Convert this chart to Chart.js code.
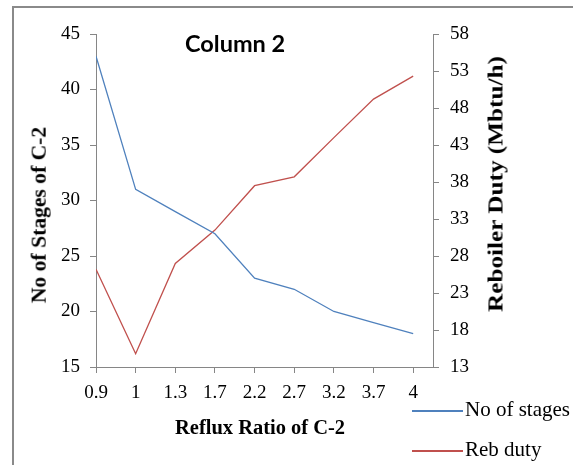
<!DOCTYPE html>
<html>
<head>
<meta charset="utf-8">
<script src="https://cdn.jsdelivr.net/npm/chart.js@4/dist/chart.umd.min.js"></script>
<style>
  html, body { margin: 0; padding: 0; background: #fff; }
  #wrap { position: relative; width: 573px; height: 465px; overflow: hidden; }
  #frame { position: absolute; left: 12px; top: 6px; width: 700px; height: 600px;
           border-left: 2px solid #8a8a8a; border-top: 2px solid #8a8a8a; }
  canvas { position: absolute; left: 0; top: 0; }
  #title { position: absolute; left: 185px; top: 29px; font: bold 23.5px Lato, "Open Sans", sans-serif; color: #000; line-height: 1.2; }
  .axt { position: absolute; font: bold 20px "Liberation Serif", "Times New Roman", serif; color: #000; white-space: nowrap; line-height: 1; }
  .leg { position: absolute; font: 21px "Liberation Serif", serif; color: #000; white-space: nowrap; }
  .leg span.ln { position: absolute; left: 0; top: 0; width: 51px; height: 1.5px; }
  .leg span.tx { position: absolute; left: 53px; top: -13px; line-height: 1.2; }
</style>
</head>
<body>
<div id="wrap">
  <div id="frame"></div>
  <canvas id="c" width="573" height="465"></canvas>
  <div id="title">Column 2</div>
  <div id="xt" class="axt">Reflux Ratio of C-2</div>
  <div id="yt" class="axt">No of Stages of C-2</div>
  <div id="y1t" class="axt">Reboiler Duty (Mbtu/h)</div>
  <div id="legend"></div>
</div>
<script>
const categories = ['0.9', '1', '1.3', '1.7', '2.2', '2.7', '3.2', '3.7', '4'];
const stages = [43, 31, 29, 27, 23, 22, 20, 19, 18];
const rebDuty = [26.2, 14.8, 27.0, 31.5, 37.5, 38.7, 44.0, 49.2, 52.3];
const seriesNames = ['No of stages', 'Reb duty'];
const seriesColors = ['#4F81BD', '#C0504D'];
const leftAxisRange = [15, 45, 5];
const rightAxisRange = [13, 58, 5];

const axisColor = '#868686';
const tickFont = { family: '"Liberation Serif", "Times New Roman", serif', size: 19 };

const datasets = [
  { label: seriesNames[0], data: stages.map((v, i) => ({ x: i, y: v })), yAxisID: 'y',
    borderColor: seriesColors[0], backgroundColor: seriesColors[0], borderWidth: 1.3,
    pointRadius: 0, tension: 0, fill: false },
  { label: seriesNames[1], data: rebDuty.map((v, i) => ({ x: i, y: v })), yAxisID: 'y1',
    borderColor: seriesColors[1], backgroundColor: seriesColors[1], borderWidth: 1.3,
    pointRadius: 0, tension: 0, fill: false }
];

new Chart(document.getElementById('c'), {
  type: 'line',
  data: { datasets },
  options: {
    responsive: false,
    animation: false,
    layout: { padding: { left: 0, right: 0, top: 34, bottom: 0 } },
    plugins: { legend: { display: false }, title: { display: false }, tooltip: { enabled: false } },
    scales: {
      x: {
        type: 'linear', position: 'bottom', min: 0, max: categories.length - 0.5,
        bounds: 'data',
        grid: { drawOnChartArea: false, drawTicks: true, tickLength: 6, color: axisColor },
        border: { color: axisColor, width: 1 },
        ticks: { stepSize: 1, includeBounds: false, autoSkip: false, maxRotation: 0, color: '#000', font: tickFont, padding: 9,
                 callback: (v) => (Number.isInteger(v) && v < categories.length) ? categories[v] : '' },
        afterFit: (s) => { s.height = 98; }
      },
      y: {
        type: 'linear', position: 'left', min: leftAxisRange[0], max: leftAxisRange[1],
        grid: { drawOnChartArea: false, drawTicks: true, tickLength: 6, color: axisColor },
        border: { color: axisColor, width: 1 },
        ticks: { stepSize: leftAxisRange[2], color: '#000', font: tickFont, padding: 10 },
        afterFit: (s) => { s.width = 96; }
      },
      y1: {
        type: 'linear', position: 'right', min: rightAxisRange[0], max: rightAxisRange[1],
        grid: { drawOnChartArea: false, drawTicks: true, tickLength: 6, color: axisColor },
        border: { color: axisColor, width: 1 },
        ticks: { stepSize: rightAxisRange[2], color: '#000', font: tickFont, padding: 11 },
        afterFit: (s) => { s.width = 140; }
      }
    }
  }
});

// axis titles (HTML text)
function placeTitle(id, cx, cy, rot, targetLen) {
  const el = document.getElementById(id);
  const w = el.offsetWidth;
  const sx = targetLen / w;
  el.style.left = (cx - w / 2) + 'px';
  el.style.top = (cy - el.offsetHeight / 2) + 'px';
  el.style.transform = 'rotate(' + rot + 'deg) scaleX(' + sx + ')';
}
placeTitle('xt', 260, 427, 0, 170);
placeTitle('yt', 38, 215, -90, 176);
placeTitle('y1t', 495, 184, -90, 256);

// legend as HTML text
const legend = document.getElementById('legend');
const legendTops = [410, 450];
seriesNames.forEach((name, i) => {
  const d = document.createElement('div');
  d.className = 'leg';
  d.style.left = '412px';
  d.style.top = legendTops[i] + 'px';
  d.innerHTML = '<span class="ln" style="background:' + seriesColors[i] + '"></span><span class="tx">' + name + '</span>';
  legend.appendChild(d);
});
</script>
</body>
</html>
